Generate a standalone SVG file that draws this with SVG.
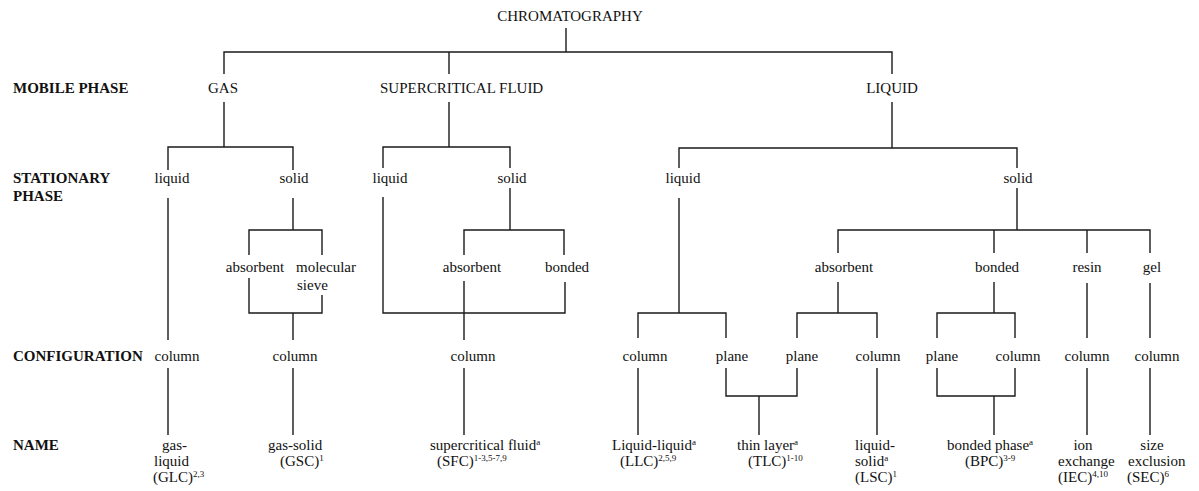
<svg xmlns="http://www.w3.org/2000/svg" width="1199" height="491" viewBox="0 0 1199 491">
<style>
text{font-family:"Liberation Serif","Times New Roman",serif;font-size:15px;fill:#111}
.b{font-weight:bold}
.m{text-anchor:middle}
.sup{font-size:9px}
#connectors path{fill:none;stroke:#1a1a1a;stroke-width:1.4}
</style>
<rect width="1199" height="491" fill="#fff"/>
<g id="connectors">
<path d="M566,28V52M224,74V52H892V74M449,52V74"/>
<path d="M224,102V147M168,170V147H293V170"/>
<path d="M449,102V147M383,168V147H510V168"/>
<path d="M892,102V148M679,168V148H1017V168"/>
<path d="M168,198V340M168,368V435"/>
<path d="M293,198V230M249,255V230H322V255M249,278V313H322V295M293,313V340M293,368V435"/>
<path d="M383,197V313H565V282M510,188V230M464,255V230H564V255M464,281V340M464,368V435"/>
<path d="M679,198V313M638,338V313H726V338M638,368V435M726,368V396H797V368M759,396V435"/>
<path d="M1017,188V230M838,253V230H1150V253M994,230V253M1087,230V253"/>
<path d="M838,282V313M797,338V313H877V338M877,368V435"/>
<path d="M994,282V313M937,338V313H1015V338M937,368V396H1015V368M994,396V435"/>
<path d="M1087,283V338M1087,368V435M1150,283V338M1150,368V435"/>
</g>
<g id="row-labels">
<text class="b" x="13" y="93">MOBILE PHASE</text>
<text class="b" x="13" y="183">STATIONARY</text>
<text class="b" x="13" y="201">PHASE</text>
<text class="b" x="13" y="361">CONFIGURATION</text>
<text class="b" x="13" y="450">NAME</text>
</g>
<g id="n-chromatography"><text class="m" x="570" y="21">CHROMATOGRAPHY</text></g>
<g id="n-gas"><text class="m" x="223" y="93">GAS</text></g>
<g id="n-sfc"><text x="380" y="93">SUPERCRITICAL FLUID</text></g>
<g id="n-liquid"><text class="m" x="892" y="93">LIQUID</text></g>
<g id="n-gas-liquid"><text class="m" x="172" y="183">liquid</text></g>
<g id="n-gas-solid"><text class="m" x="294" y="183">solid</text></g>
<g id="n-sfc-liquid"><text class="m" x="390" y="183">liquid</text></g>
<g id="n-sfc-solid"><text class="m" x="512" y="183">solid</text></g>
<g id="n-lc-liquid"><text class="m" x="683" y="183">liquid</text></g>
<g id="n-lc-solid"><text class="m" x="1018" y="183">solid</text></g>
<g id="n-gas-absorbent"><text class="m" x="255" y="272">absorbent</text></g>
<g id="n-gas-sieve"><text x="296" y="272">molecular</text><text x="297" y="290">sieve</text></g>
<g id="n-sfc-absorbent"><text class="m" x="472" y="272">absorbent</text></g>
<g id="n-sfc-bonded"><text class="m" x="567" y="272">bonded</text></g>
<g id="n-lc-absorbent"><text class="m" x="844" y="272">absorbent</text></g>
<g id="n-lc-bonded"><text class="m" x="997" y="272">bonded</text></g>
<g id="n-lc-resin"><text class="m" x="1087" y="272">resin</text></g>
<g id="n-lc-gel"><text class="m" x="1152" y="272">gel</text></g>
<g id="n-col-glc"><text class="m" x="177" y="361">column</text></g>
<g id="n-col-gsc"><text class="m" x="295" y="361">column</text></g>
<g id="n-col-sfc"><text class="m" x="473" y="361">column</text></g>
<g id="n-col-llc"><text class="m" x="645" y="361">column</text></g>
<g id="n-plane-1"><text class="m" x="732" y="361">plane</text></g>
<g id="n-plane-2"><text class="m" x="802" y="361">plane</text></g>
<g id="n-col-lsc"><text class="m" x="878" y="361">column</text></g>
<g id="n-plane-bpc"><text class="m" x="942" y="361">plane</text></g>
<g id="n-col-bpc"><text class="m" x="1018" y="361">column</text></g>
<g id="n-col-iec"><text class="m" x="1087" y="361">column</text></g>
<g id="n-col-sec"><text class="m" x="1157" y="361">column</text></g>
<g id="n-glc"><text x="162" y="450">gas-</text><text x="154" y="466">liquid</text><text x="153" y="482">(GLC)<tspan class="sup" dy="-5">2,3</tspan></text></g>
<g id="n-gsc"><text x="268" y="450">gas-solid</text><text x="280" y="466">(GSC)<tspan class="sup" dy="-5">1</tspan></text></g>
<g id="n-sfc-name"><text x="430" y="450">supercritical fluid<tspan class="sup" dy="-5">a</tspan></text><text x="437" y="466">(SFC)<tspan class="sup" dy="-5">1-3,5-7,9</tspan></text></g>
<g id="n-llc"><text x="612" y="450">Liquid-liquid<tspan class="sup" dy="-5">a</tspan></text><text x="620" y="466">(LLC)<tspan class="sup" dy="-5">2,5,9</tspan></text></g>
<g id="n-tlc"><text x="737" y="450">thin layer<tspan class="sup" dy="-5">a</tspan></text><text x="748" y="466">(TLC)<tspan class="sup" dy="-5">1-10</tspan></text></g>
<g id="n-lsc"><text x="855" y="450">liquid-</text><text x="855" y="466">solid<tspan class="sup" dy="-5">a</tspan></text><text x="855" y="482">(LSC)<tspan class="sup" dy="-5">1</tspan></text></g>
<g id="n-bpc"><text x="947" y="450">bonded phase<tspan class="sup" dy="-5">a</tspan></text><text x="965" y="466">(BPC)<tspan class="sup" dy="-5">3-9</tspan></text></g>
<g id="n-iec"><text class="m" x="1083" y="450">ion</text><text x="1058" y="466">exchange</text><text x="1058" y="482">(IEC)<tspan class="sup" dy="-5">4,10</tspan></text></g>
<g id="n-sec"><text class="m" x="1152" y="450">size</text><text x="1128" y="466">exclusion</text><text x="1127" y="482">(SEC)<tspan class="sup" dy="-5">6</tspan></text></g>
</svg>
